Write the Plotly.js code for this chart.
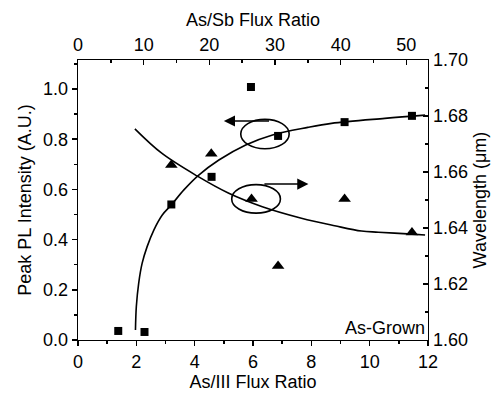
<!DOCTYPE html>
<html>
<head>
<meta charset="utf-8">
<script src="https://cdn.plot.ly/plotly-3.0.1.min.js"></script>
<style>html,body{margin:0;padding:0;background:#fff;}#chart{width:499px;height:393px;}</style>
</head>
<body>
<div id="chart"></div>
<script>
// Measured data: peak PL intensity (squares, left axis)
const plX = [1.38, 2.28, 3.2, 4.58, 5.93, 6.86, 9.14, 11.45];
const plY = [0.036, 0.032, 0.54, 0.65, 1.008, 0.813, 0.868, 0.893];
// Wavelength (triangles, right axis)
const wlX = [3.2, 4.57, 5.95, 6.86, 9.14, 11.45];
const wlY = [1.6625, 1.6665, 1.6504, 1.6264, 1.6504, 1.6384];
// Fit curves
const plFitX = [1.97, 2.0, 2.08, 2.2, 2.37, 2.6, 2.89, 3.2, 3.63, 4.14, 4.83, 5.75, 6.67, 7.88, 8.69, 10.52, 11.9];
const plFitY = [0.04, 0.133, 0.226, 0.306, 0.372, 0.438, 0.498, 0.538, 0.598, 0.657, 0.717, 0.777, 0.817, 0.847, 0.863, 0.883, 0.896];
const wlFitX = [1.95, 2.87, 4.08, 5.17, 6.32, 7.66, 8.8, 9.72, 10.3, 11.45, 11.9];
const wlFitY = [1.6754, 1.6667, 1.6586, 1.6524, 1.6476, 1.6435, 1.6408, 1.6389, 1.6385, 1.6378, 1.6375];
// Top axis range (As/Sb flux ratio)
const topRange = [0, 53.3];

const fnt = {family: 'Liberation Sans, Arial, sans-serif', size: 18, color: '#000'};
const traces = [
  {x: plFitX, y: plFitY, type: 'scatter', mode: 'lines', line: {color: '#000', width: 1.6, shape: 'spline'}, xaxis: 'x', yaxis: 'y', hoverinfo: 'skip'},
  {x: wlFitX, y: wlFitY, type: 'scatter', mode: 'lines', line: {color: '#000', width: 1.6, shape: 'spline'}, xaxis: 'x', yaxis: 'y2', hoverinfo: 'skip'},
  {x: plX, y: plY, type: 'scatter', mode: 'markers', marker: {symbol: 'square', size: 8, color: '#000'}, xaxis: 'x', yaxis: 'y'},
  {x: wlX, y: wlY, type: 'scatter', mode: 'markers', marker: {symbol: 'triangle-up', size: 11, color: '#000'}, xaxis: 'x', yaxis: 'y2'},
  {x: topRange, y: [0, 0], type: 'scatter', mode: 'markers', marker: {opacity: 0}, xaxis: 'x2', yaxis: 'y', hoverinfo: 'skip'}
];

const axBase = {showgrid: false, zeroline: false, showline: true, linecolor: '#000', linewidth: 1.4, tickcolor: '#000', tickwidth: 1.4, ticklen: 5, tickfont: fnt};

const layout = {
  width: 499, height: 393,
  margin: {l: 78, r: 71, t: 60, b: 53},
  paper_bgcolor: '#fff', plot_bgcolor: '#fff',
  showlegend: false,
  font: fnt,
  xaxis: Object.assign({}, axBase, {range: [0, 12], dtick: 2, tick0: 0, ticks: 'outside',
    minor: {dtick: 1, ticklen: 3, tickcolor: '#000', ticks: 'outside'},
    title: {text: 'As/III Flux Ratio', font: fnt, standoff: 2}}),
  xaxis2: Object.assign({}, axBase, {range: topRange, dtick: 10, tick0: 0, ticks: 'inside', side: 'top', overlaying: 'x', anchor: 'y',
    minor: {dtick: 5, ticklen: 3, tickcolor: '#000', ticks: 'inside'},
    title: {text: 'As/Sb Flux Ratio', font: fnt, standoff: 4}}),
  yaxis: Object.assign({}, axBase, {range: [0, 1.1155], dtick: 0.2, tick0: 0, ticks: 'outside', tickformat: '.1f',
    minor: {dtick: 0.1, ticklen: 3, tickcolor: '#000', ticks: 'outside'},
    title: {text: 'Peak PL Intensity (A.U.)', font: fnt, standoff: 6}}),
  yaxis2: Object.assign({}, axBase, {range: [1.60, 1.70], dtick: 0.02, tick0: 1.60, ticks: 'inside', tickformat: '.2f', side: 'right', overlaying: 'y', anchor: 'x',
    minor: {dtick: 0.01, ticklen: 3, tickcolor: '#000', ticks: 'inside'},
    title: {text: 'Wavelength (μm)', font: fnt, standoff: 6}}),
  shapes: [
    {type: 'circle', xref: 'x', yref: 'y', x0: 5.58, x1: 7.24, y0: 0.762, y1: 0.879, line: {color: '#000', width: 1.6}},
    {type: 'circle', xref: 'x', yref: 'y2', x0: 5.27, x1: 6.94, y0: 1.6453, y1: 1.6555, line: {color: '#000', width: 1.6}}
  ],
  annotations: [
    {x: 5.0, y: 0.8725, xref: 'x', yref: 'y', ax: 6.6, ay: 0.8725, axref: 'x', ayref: 'y', text: '', showarrow: true, arrowhead: 2, arrowsize: 1.4, arrowwidth: 1.6, arrowcolor: '#000'},
    {x: 7.9, y: 1.6557, xref: 'x', yref: 'y2', ax: 6.34, ay: 1.6557, axref: 'x', ayref: 'y2', text: '', showarrow: true, arrowhead: 2, arrowsize: 1.4, arrowwidth: 1.6, arrowcolor: '#000'},
    {x: 11.97, y: 0.0, xref: 'x', yref: 'y', xanchor: 'right', yanchor: 'bottom', text: 'As-Grown', showarrow: false, font: fnt}
  ]
};

Plotly.newPlot('chart', traces, layout, {staticPlot: true, displayModeBar: false});
</script>
</body>
</html>
